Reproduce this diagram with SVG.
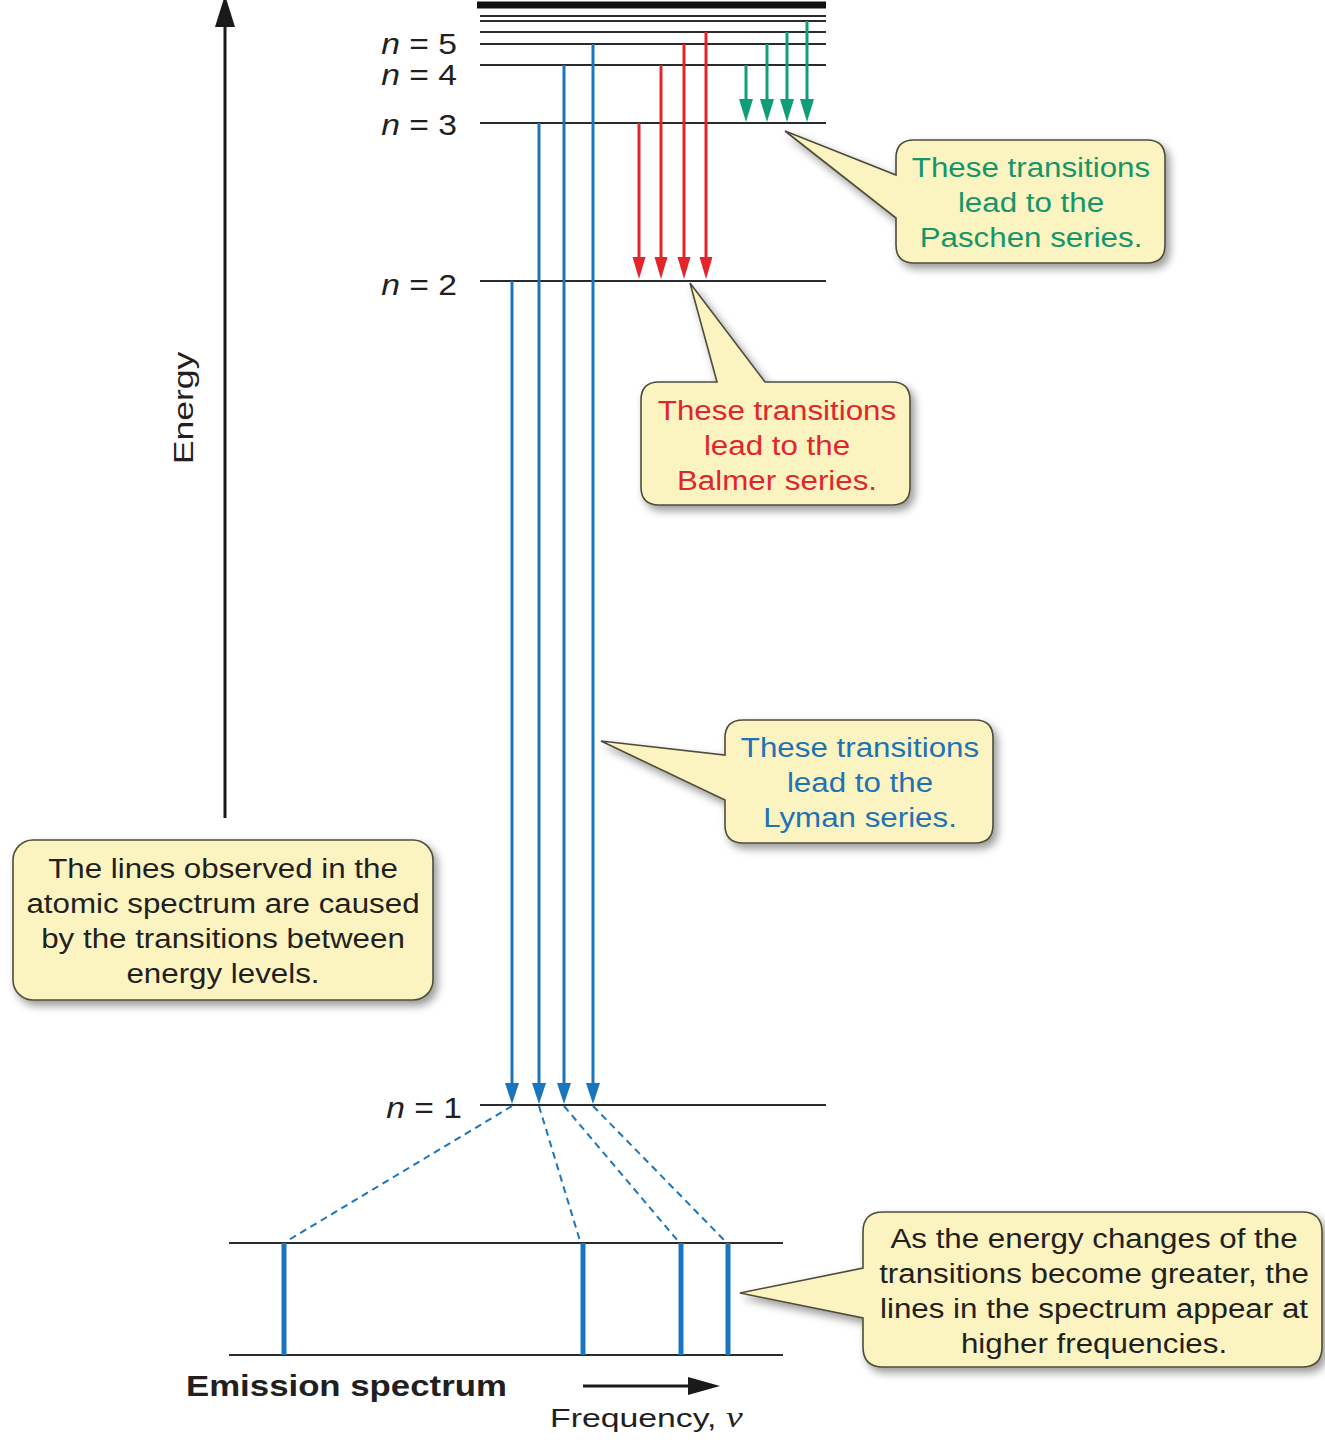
<svg xmlns="http://www.w3.org/2000/svg" width="1325" height="1440" viewBox="0 0 1325 1440">
<defs>
<style>
.lvl{stroke:#2b2b2b;stroke-width:2;fill:none}
.lab{font-family:"Liberation Sans",Arial,sans-serif;font-size:29px;fill:#231f20;text-anchor:end}
.t{font-family:"Liberation Sans",Arial,sans-serif;font-size:27px;text-anchor:middle}
.dark{fill:#231f20}
.green{fill:#14966a}
.red{fill:#e0262c}
.blue{fill:#1f72b4}
.co{fill:#fcf4c0;stroke:#4f4c3a;stroke-width:1.6;filter:url(#sh)}
.ab{stroke:#1b75bc;stroke-width:3;fill:none;marker-end:url(#hb)}
.ar{stroke:#e3242b;stroke-width:3;fill:none;marker-end:url(#hr)}
.ag{stroke:#0f9e78;stroke-width:3;fill:none;marker-end:url(#hg)}
.dash{stroke:#1b75bc;stroke-width:2;stroke-dasharray:7 5;fill:none}
.bar{stroke:#1b75bc;stroke-width:5}
</style>
<filter id="sh" x="-10%" y="-10%" width="130%" height="140%">
<feDropShadow dx="4" dy="5" stdDeviation="4" flood-color="#000" flood-opacity="0.4"/>
</filter>
<marker id="hb" markerUnits="userSpaceOnUse" markerWidth="22" markerHeight="16" refX="10" refY="7" orient="auto"><path d="M0,0 L21,7 L0,14 z" fill="#1b75bc"/></marker>
<marker id="hr" markerUnits="userSpaceOnUse" markerWidth="22" markerHeight="16" refX="10" refY="6.5" orient="auto"><path d="M0,0 L22,6.5 L0,13 z" fill="#e3242b"/></marker>
<marker id="hg" markerUnits="userSpaceOnUse" markerWidth="24" markerHeight="16" refX="10" refY="7" orient="auto"><path d="M0,0 L23,7 L0,14 z" fill="#0f9e78"/></marker>
<marker id="hk" markerUnits="userSpaceOnUse" markerWidth="34" markerHeight="22" refX="12" refY="10" orient="auto"><path d="M0,0 L32,10 L0,20 z" fill="#1a1a1a"/></marker>
<marker id="hf" markerUnits="userSpaceOnUse" markerWidth="34" markerHeight="20" refX="12" refY="9" orient="auto"><path d="M0,0 L32,9 L0,18 z" fill="#1a1a1a"/></marker>
</defs>
<rect width="1325" height="1440" fill="#ffffff"/>

<g id="energy-axis">
<line x1="225" y1="818" x2="225" y2="15" stroke="#1a1a1a" stroke-width="3" marker-end="url(#hk)"/>
<text transform="translate(193,408) rotate(-90) scale(1.27,1)" font-family="Liberation Sans, Arial, sans-serif" font-size="28" fill="#231f20" text-anchor="middle">Energy</text>
</g>

<g id="levels">
<line x1="477" y1="5" x2="826" y2="5" stroke="#111" stroke-width="7"/>
<line class="lvl" x1="480" y1="16" x2="826" y2="16"/>
<line class="lvl" x1="480" y1="21" x2="826" y2="21"/>
<line class="lvl" x1="480" y1="32" x2="826" y2="32"/>
<line class="lvl" x1="480" y1="44" x2="826" y2="44"/>
<line class="lvl" x1="480" y1="65" x2="826" y2="65"/>
<line class="lvl" x1="480" y1="123" x2="826" y2="123"/>
<line class="lvl" x1="480" y1="281" x2="826" y2="281"/>
<line class="lvl" x1="480" y1="1105" x2="826" y2="1105"/>
<text class="lab" transform="translate(457,54) scale(1.16,1)"><tspan font-style="italic">n</tspan> = 5</text>
<text class="lab" transform="translate(457,85) scale(1.16,1)"><tspan font-style="italic">n</tspan> = 4</text>
<text class="lab" transform="translate(457,135) scale(1.16,1)"><tspan font-style="italic">n</tspan> = 3</text>
<text class="lab" transform="translate(457,295) scale(1.16,1)"><tspan font-style="italic">n</tspan> = 2</text>
<text class="lab" transform="translate(462,1118) scale(1.16,1)"><tspan font-style="italic">n</tspan> = 1</text>
</g>

<g id="connectors">
<line class="ab" x1="512" y1="281" x2="512" y2="1093"/>
<line class="ab" x1="539" y1="123" x2="539" y2="1093"/>
<line class="ab" x1="564" y1="65" x2="564" y2="1093"/>
<line class="ab" x1="593" y1="44" x2="593" y2="1093"/>
<line class="ar" x1="639" y1="123" x2="639" y2="267"/>
<line class="ar" x1="661" y1="65" x2="661" y2="267"/>
<line class="ar" x1="684" y1="44" x2="684" y2="267"/>
<line class="ar" x1="706" y1="32" x2="706" y2="267"/>
<line class="ag" x1="746" y1="65" x2="746" y2="109"/>
<line class="ag" x1="767" y1="44" x2="767" y2="109"/>
<line class="ag" x1="787" y1="32" x2="787" y2="109"/>
<line class="ag" x1="807" y1="21" x2="807" y2="109"/>
<line class="dash" x1="512" y1="1106" x2="287" y2="1241"/>
<line class="dash" x1="539" y1="1106" x2="580" y2="1241"/>
<line class="dash" x1="564" y1="1106" x2="678" y2="1241"/>
<line class="dash" x1="593" y1="1106" x2="725" y2="1241"/>
</g>

<g id="spectrum">
<line class="lvl" x1="229" y1="1243" x2="783" y2="1243"/>
<line class="lvl" x1="229" y1="1355" x2="783" y2="1355"/>
<line class="bar" x1="284" y1="1243" x2="284" y2="1355"/>
<line class="bar" x1="583" y1="1243" x2="583" y2="1355"/>
<line class="bar" x1="681" y1="1243" x2="681" y2="1355"/>
<line class="bar" x1="728" y1="1243" x2="728" y2="1355"/>
<text transform="translate(186,1396) scale(1.16,1)" font-family="Liberation Sans, Arial, sans-serif" font-size="30" font-weight="bold" fill="#231f20">Emission spectrum</text>
<line x1="583" y1="1386" x2="700" y2="1386" stroke="#1a1a1a" stroke-width="3" marker-end="url(#hf)"/>
<text transform="translate(550,1427) scale(1.3,1)" font-family="Liberation Sans, Arial, sans-serif" font-size="26" fill="#231f20">Frequency, <tspan font-family="Liberation Serif, Times New Roman, serif" font-style="italic" font-size="29">ν</tspan></text>
</g>

<g id="callout-paschen">
<path class="co" d="M914,140 H1147 Q1165,140 1165,158 V245 Q1165,263 1147,263 H914 Q896,263 896,245 V218 L785,131 L896,175 V158 Q896,140 914,140 Z"/>
<text class="t green" transform="translate(1031,177) scale(1.16,1)"><tspan x="0" y="0">These transitions</tspan><tspan x="0" y="35">lead to the</tspan><tspan x="0" y="70">Paschen series.</tspan></text>
</g>

<g id="callout-balmer">
<path class="co" d="M659,382 H717 L690,283 L765,382 H892 Q910,382 910,400 V487 Q910,505 892,505 H659 Q641,505 641,487 V400 Q641,382 659,382 Z"/>
<text class="t red" transform="translate(777,420) scale(1.16,1)"><tspan x="0" y="0">These transitions</tspan><tspan x="0" y="35">lead to the</tspan><tspan x="0" y="70">Balmer series.</tspan></text>
</g>

<g id="callout-lyman">
<path class="co" d="M743,720 H975 Q993,720 993,738 V825 Q993,843 975,843 H743 Q725,843 725,825 V800 L601,741 L725,755 V738 Q725,720 743,720 Z"/>
<text class="t blue" transform="translate(860,757) scale(1.16,1)"><tspan x="0" y="0">These transitions</tspan><tspan x="0" y="35">lead to the</tspan><tspan x="0" y="70">Lyman series.</tspan></text>
</g>

<g id="callout-left">
<rect class="co" x="13" y="840" width="420" height="160" rx="20" ry="20"/>
<text class="t dark" transform="translate(223,878) scale(1.16,1)"><tspan x="0" y="0">The lines observed in the</tspan><tspan x="0" y="35">atomic spectrum are caused</tspan><tspan x="0" y="70">by the transitions between</tspan><tspan x="0" y="105">energy levels.</tspan></text>
</g>

<g id="callout-right">
<path class="co" d="M883,1212 H1302 Q1322,1212 1322,1232 V1347 Q1322,1367 1302,1367 H883 Q863,1367 863,1347 V1318 L740,1293 L863,1268 V1232 Q863,1212 883,1212 Z"/>
<text class="t dark" transform="translate(1094,1248) scale(1.16,1)"><tspan x="0" y="0">As the energy changes of the</tspan><tspan x="0" y="35">transitions become greater, the</tspan><tspan x="0" y="70">lines in the spectrum appear at</tspan><tspan x="0" y="105">higher frequencies.</tspan></text>
</g>
</svg>
